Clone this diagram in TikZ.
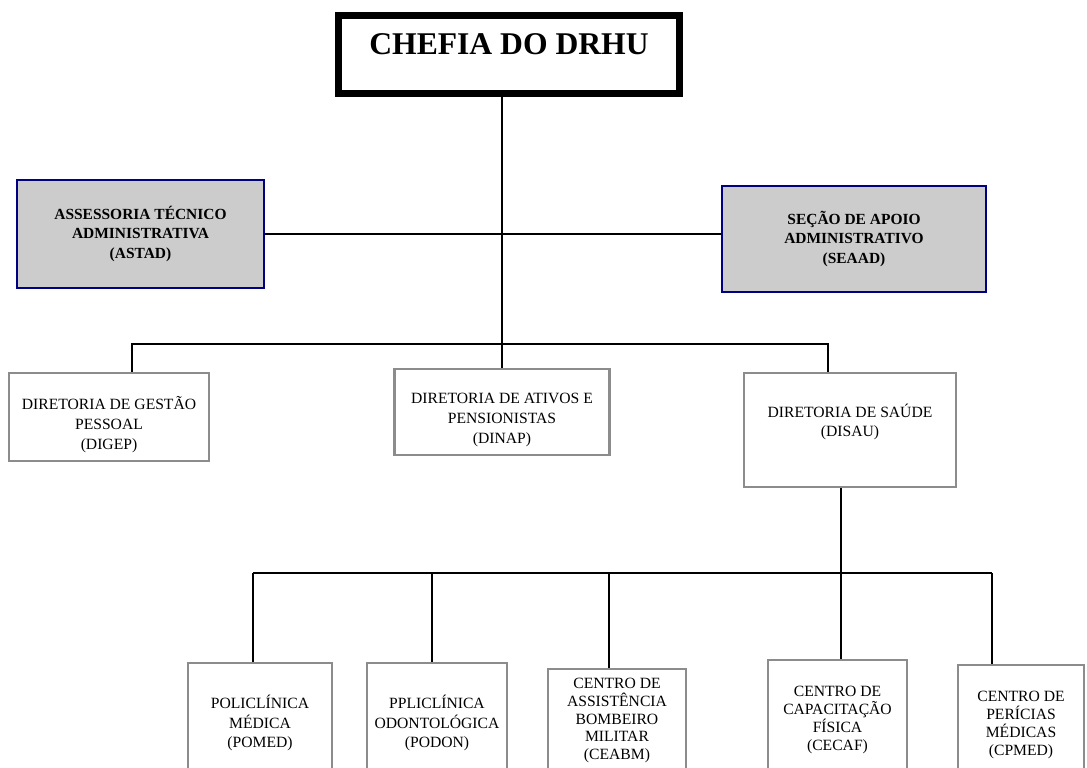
\documentclass[tikz,border=0pt]{standalone}
\usepackage{fontspec}
\setmainfont{Liberation Serif}
\definecolor{chartnavy}{RGB}{0,0,128}
\definecolor{chartgray}{RGB}{204,204,204}
\definecolor{framegray}{RGB}{140,140,140}
% struts to push a box text down (top) or up (bottom)
\newcommand{\padtop}[1]{\rule{0pt}{#1}}
\newcommand{\padbot}[1]{\rule[-#1]{0pt}{#1}}

\begin{document}
\begin{tikzpicture}[x=0.02cm, y=-0.02cm,
    chiefbox/.style={rectangle, draw=black, line width=4pt, fill=white, minimum width=6.82cm, minimum height=1.56cm, text depth=11.9pt, font=\fontsize{18}{21}\selectfont\bfseries},
    staffbox/.style={rectangle, draw=chartnavy, line width=1.5pt, fill=chartgray, align=center, font=\fontsize{8.8}{11.3}\selectfont\bfseries},
    unitbox/.style={rectangle, draw=framegray, line width=1.3pt, fill=white, align=center, font=\fontsize{8.9}{11.3}\selectfont},
    conn/.style={draw=black, line width=1.1pt}]
    \useasboundingbox (0,0) rectangle (1087,767);

    % Chefia
    \node[chiefbox] (chefia) at (509,54.5) {CHEFIA DO DRHU};

    % Staff boxes
    \node[staffbox, minimum width=4.94cm, minimum height=2.16cm] (astad) at (140.5,234) {ASSESSORIA TÉCNICO\\ADMINISTRATIVA\\(ASTAD)};
    \node[staffbox, minimum width=5.28cm, minimum height=2.12cm] (seaad) at (854,239) {SEÇÃO DE APOIO\\ADMINISTRATIVO\\(SEAAD)};

    % Diretorias
    \node[unitbox, minimum width=4.0cm, minimum height=1.76cm] (digep) at (109,417) {\padtop{16pt}DIRETORIA DE GESTÃO\\PESSOAL\\(DIGEP)};
    \node[unitbox, minimum width=4.3cm, minimum height=1.72cm] (dinap) at (502,412) {\padtop{14.9pt}DIRETORIA DE ATIVOS E\\PENSIONISTAS\\(DINAP)};
    \node[unitbox, minimum width=4.24cm, minimum height=2.28cm] (disau) at (850,430) {DIRETORIA DE SAÚDE\\(DISAU)\padbot{11pt}};

    % Centros da DISAU
    \node[unitbox, minimum width=2.88cm, minimum height=2.4cm] (pomed) at (260,723) {POLICLÍNICA\\MÉDICA\\(POMED)};
    \node[unitbox, minimum width=2.8cm, minimum height=2.4cm] (podon) at (437,723) {PPLICLÍNICA\\ODONTOLÓGICA\\(PODON)};
    \node[unitbox, minimum width=2.76cm, minimum height=2.24cm, inner ysep=1pt, font=\fontsize{8.9}{10.2}\selectfont] (ceabm) at (617,725) {CENTRO DE\\ASSISTÊNCIA\\BOMBEIRO\\MILITAR\\(CEABM)\padbot{7pt}};
    \node[unitbox, minimum width=2.78cm, minimum height=2.4cm, font=\fontsize{8.9}{10.2}\selectfont] (cecaf) at (837.5,720) {CENTRO DE\\CAPACITAÇÃO\\FÍSICA\\(CECAF)};
    \node[unitbox, minimum width=2.52cm, minimum height=2.4cm, font=\fontsize{8.9}{10.4}\selectfont] (cpmed) at (1021,725) {CENTRO DE\\PERÍCIAS\\MÉDICAS\\(CPMED)};

    % Connectors
    \draw[conn] (chefia.south -| dinap.north) -- (dinap.north);
    \draw[conn] (astad.east) -- (astad.east -| seaad.west);
    \coordinate (busL) at (132,344);
    \coordinate (busR) at (828,344);
    \draw[conn] (busL |- digep.north) -- (busL) -- (busR) -- (busR |- disau.north);
    \foreach \x/\n in {253/pomed, 432/podon, 609/ceabm, 841/cecaf, 992/cpmed} {
        \coordinate (j\n) at (\x,573);
        \draw[conn] (j\n) -- (j\n |- \n.north);
    }
    \draw[conn] (jpomed) -- (jcpmed);
    \draw[conn] (disau.south -| jcecaf) -- (jcecaf);
\end{tikzpicture}
\end{document}
